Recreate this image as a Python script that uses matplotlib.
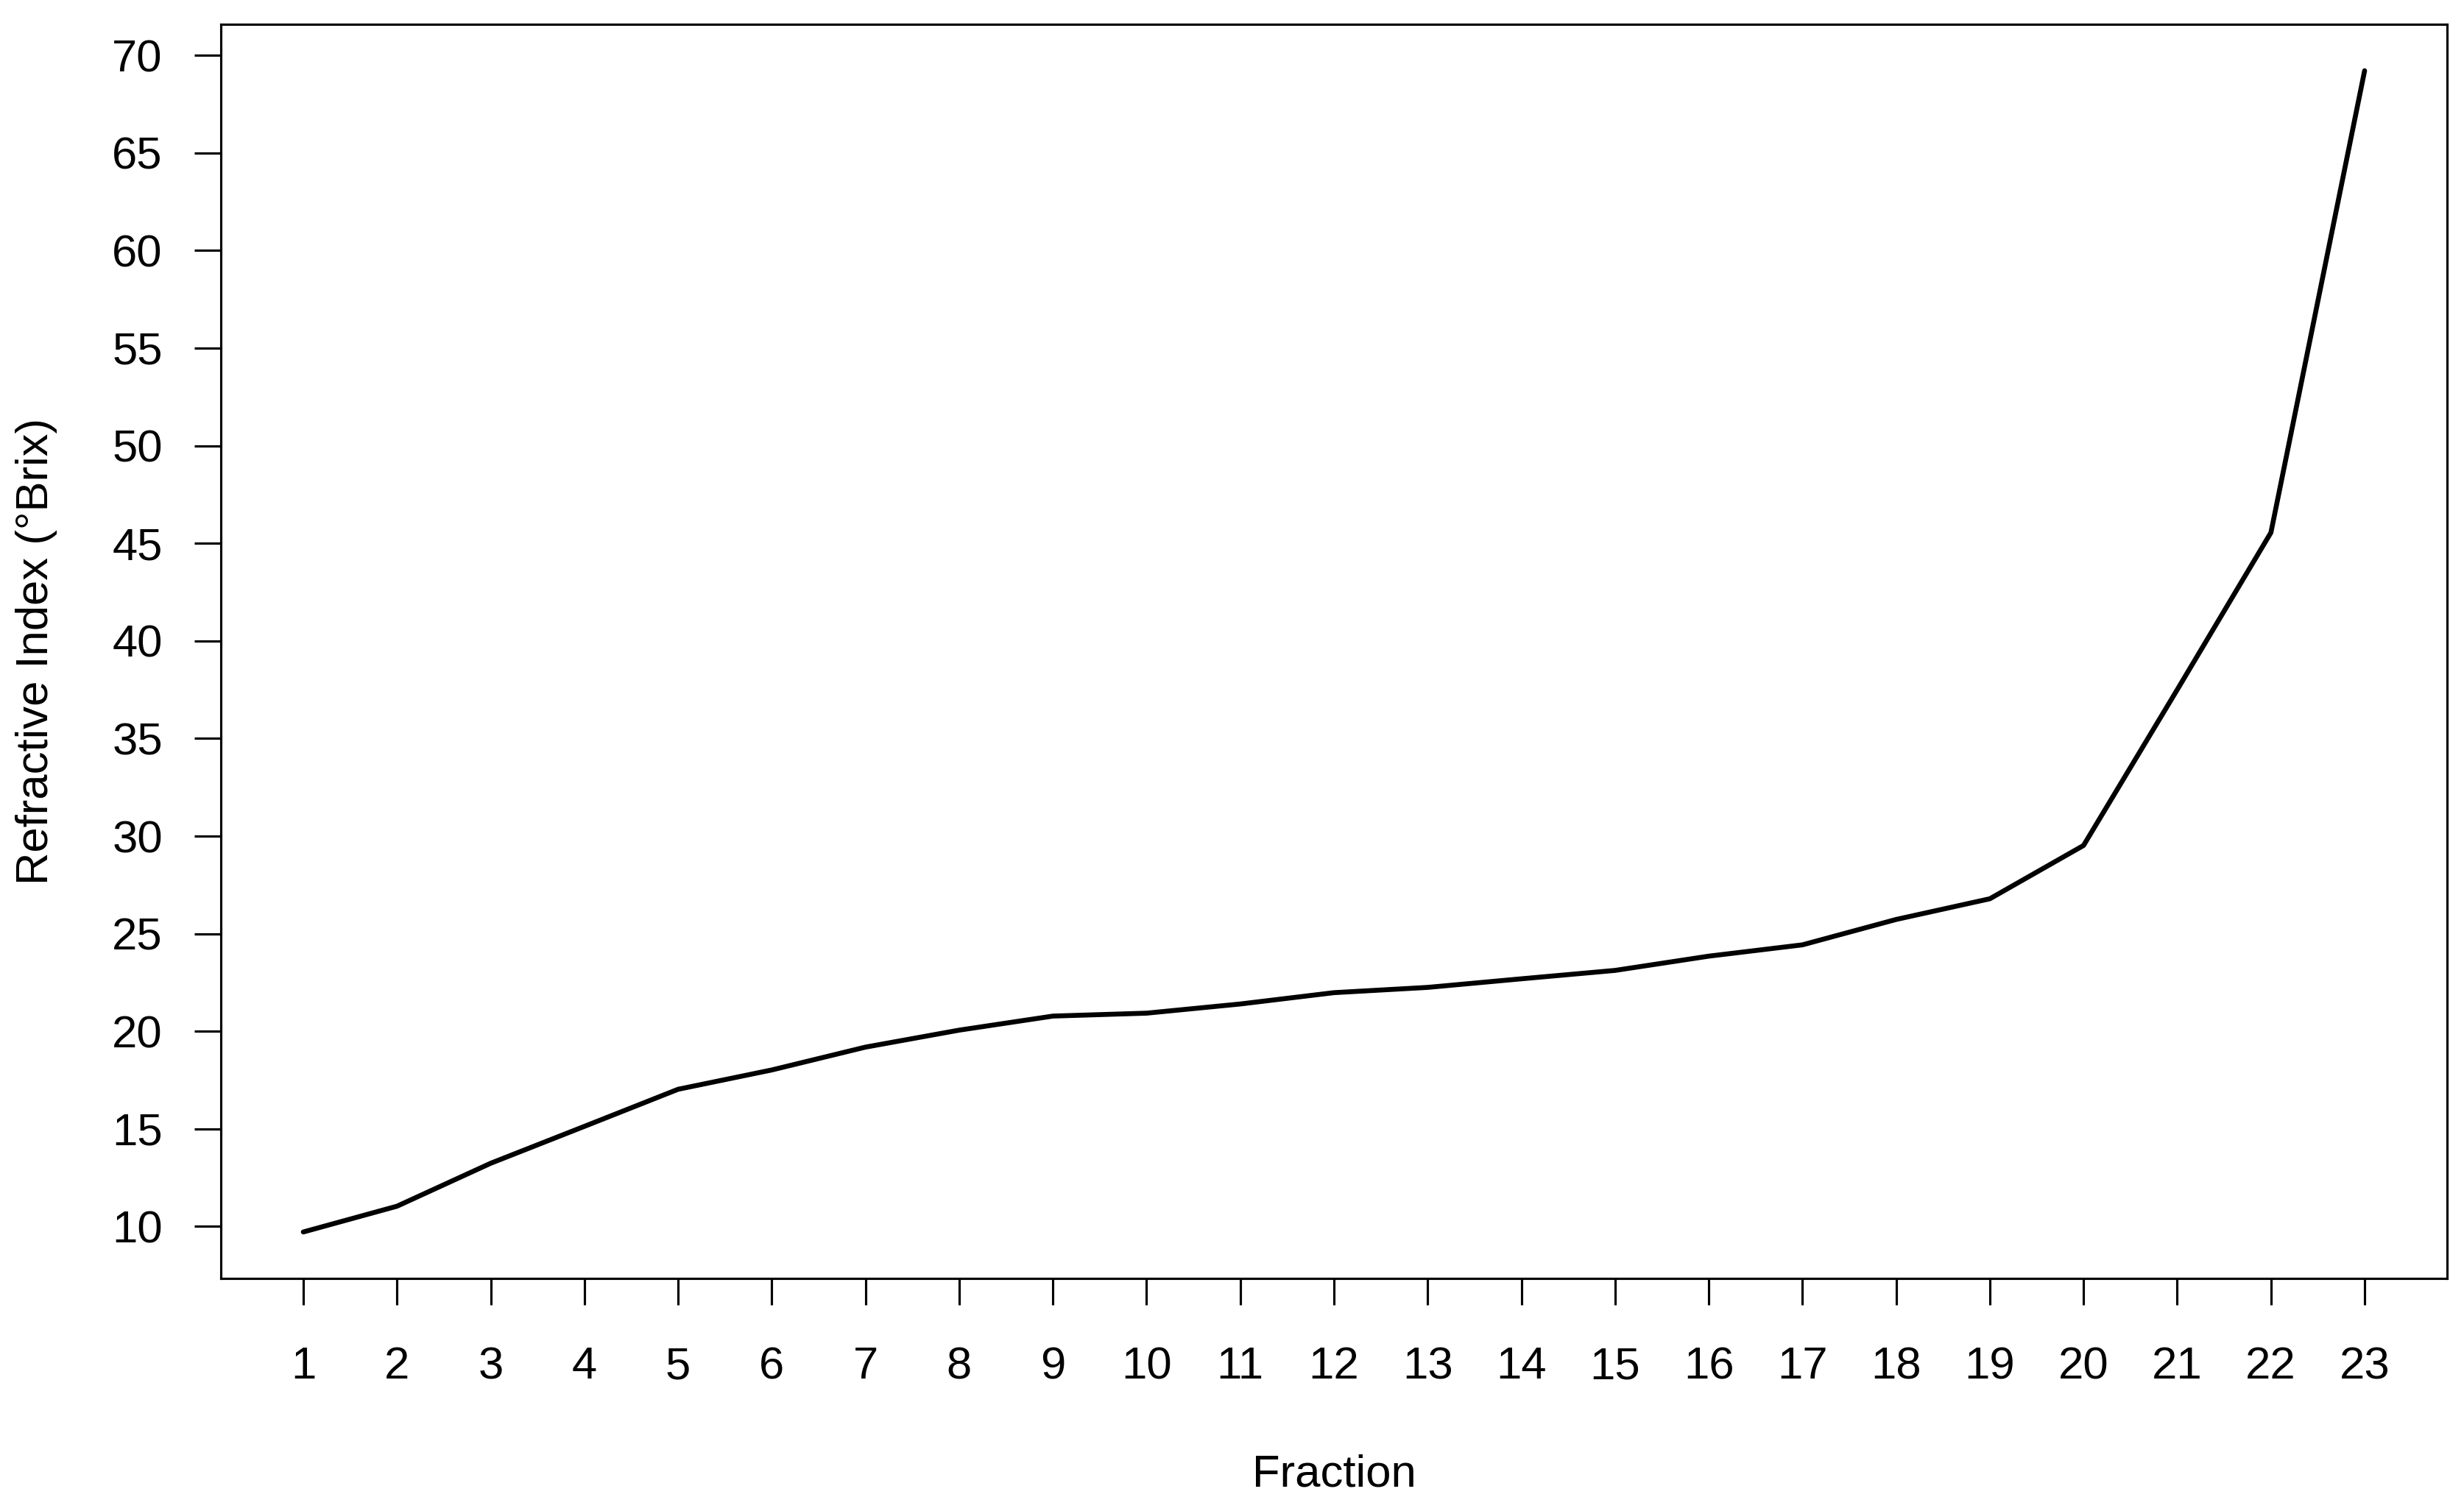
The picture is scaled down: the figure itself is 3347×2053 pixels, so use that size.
import matplotlib
matplotlib.use("Agg")
import matplotlib.pyplot as plt

# Refractive index per fraction
fractions = list(range(1, 24))
brix = [9.72, 11.04, 13.24, 15.13, 17.03, 18.02, 19.19, 20.06, 20.78, 20.93,
        21.40, 21.98, 22.25, 22.69, 23.12, 23.85, 24.43, 25.73, 26.79, 29.52,
        37.5, 45.55, 69.21]
y_ticks = list(range(10, 75, 5))

plt.rcParams["font.family"] = ["Liberation Sans", "DejaVu Sans"]

W, H, DPI = 3347, 2053, 300
fig = plt.figure(figsize=(W / DPI, H / DPI), dpi=DPI)
ax = fig.add_axes([300 / W, 1 - 1737 / H, (3324 - 300) / W, (1737 - 33) / H])

ax.plot(fractions, brix, color="black", linewidth=1.6, solid_capstyle="round",
        solid_joinstyle="round")

# R style 4% padding
xr = fractions[-1] - fractions[0]
yr = max(brix) - min(brix)
ax.set_xlim(fractions[0] - 0.04 * xr, fractions[-1] + 0.04 * xr)
ax.set_ylim(min(brix) - 0.04 * yr, max(brix) + 0.04 * yr)

ax.set_xticks(fractions)
ax.set_xticklabels([str(f) for f in fractions])
ax.set_yticks(y_ticks)
ax.set_yticklabels([str(v) for v in y_ticks])

ax.tick_params(axis="both", direction="out", length=8.6, width=0.75,
               labelsize=14.8, colors="black")
ax.tick_params(axis="x", pad=13.5)
ax.tick_params(axis="y", pad=10.4)
for s in ax.spines.values():
    s.set_linewidth(0.75)
    s.set_color("black")

fig.text(50 / W, 1 - ((33 + 1737) / 2) / H, "Refractive Index (°Brix)",
         rotation=90, ha="center", va="center", fontsize=14.8)
fig.text((300 + 3324) / 2 / W, 1 - 2004 / H, "Fraction",
         ha="center", va="center", fontsize=14.8)

fig.savefig("out.png", dpi=DPI, facecolor="white")
plt.close(fig)
